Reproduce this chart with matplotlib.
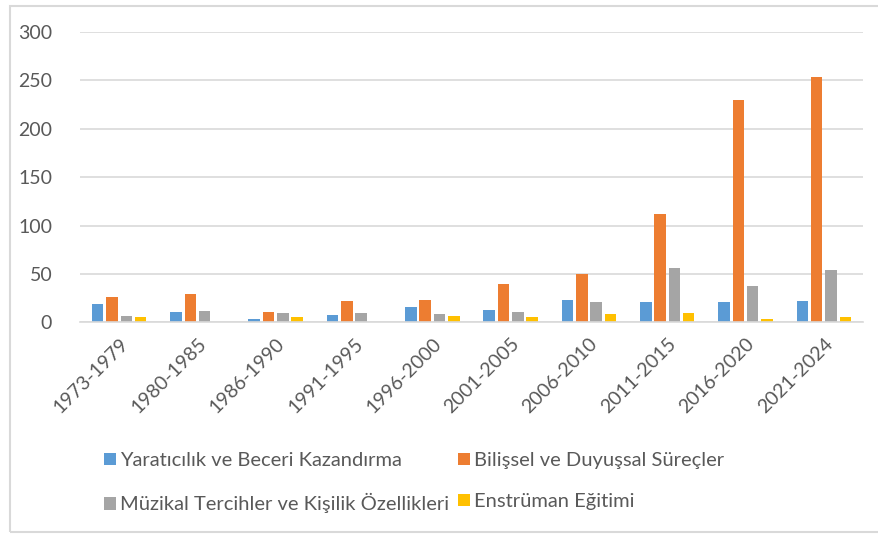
import numpy as np
import matplotlib
matplotlib.use('Agg')
import matplotlib.pyplot as plt
from matplotlib.patches import Rectangle

plt.rcParams['font.family'] = ['Lato', 'DejaVu Sans']

# periods on the x axis
periods = ['1973-1979', '1980-1985', '1986-1990', '1991-1995', '1996-2000',
           '2001-2005', '2006-2010', '2011-2015', '2016-2020', '2021-2024']

# counts
yaraticilik = [19, 11, 3, 8, 16, 13, 23, 21, 21, 22]
bilissel = [26, 29, 11, 22, 23, 40, 50, 112, 230, 253]
muzikal = [7, 12, 10, 10, 9, 11, 21, 56, 38, 54]
enstruman = [5, 0, 5, 0, 7, 6, 9, 10, 3, 5]

series_names = ['Yaratıcılık ve Beceri Kazandırma', 'Bilişsel ve Duyuşsal Süreçler',
                'Müzikal Tercihler ve Kişilik Özellikleri', 'Enstrüman Eğitimi']
colors = ['#5B9BD5', '#ED7D31', '#A5A5A5', '#FFC000']

fig = plt.figure(figsize=(8.79, 5.34), dpi=100)
ax = fig.add_axes([0.091, 0.3964, 0.8908, 0.5437])

x = np.arange(len(periods))
bar_w = 0.147
pitch = 0.183
all_series = [yaraticilik, bilissel, muzikal, enstruman]
bars = []
for i, (vals, name, c) in enumerate(zip(all_series, series_names, colors)):
    offset = (i - 1.5) * pitch
    b = ax.bar(x + offset, vals, width=bar_w, color=c, label=name, zorder=3)
    bars.append(b)

ax.set_xlim(-0.5, len(periods) - 0.5)
ax.set_ylim(0, 300)
ax.set_yticks(range(0, 301, 50))
ax.yaxis.grid(True, color='#D9D9D9', linewidth=1.2, zorder=0)
ax.set_axisbelow(True)

for s in ['top', 'right', 'left']:
    ax.spines[s].set_visible(False)
ax.spines['bottom'].set_color('#D9D9D9')
ax.spines['bottom'].set_linewidth(1.2)
ax.spines['bottom'].set_zorder(4)

ax.tick_params(axis='both', length=0, colors='#595959', labelsize=14)
ax.tick_params(axis='y', pad=20)
ax.set_xticks(x)
ax.set_xticklabels(periods, rotation=45, ha='right', rotation_mode='anchor')
ax.tick_params(axis='x', pad=9)

# legend under the chart, filled row by row like excel does it
order = [0, 2, 1, 3]
fig.legend([bars[i] for i in order], [series_names[i] for i in order],
           loc='upper left', bbox_to_anchor=(104 / 879, 1 - 452 / 534),
           ncol=2, frameon=False, fontsize=14.5, labelcolor='#595959',
           handlelength=0.6, handleheight=0.6, handletextpad=0.18,
           columnspacing=0.45, labelspacing=1.2, borderpad=0, borderaxespad=0)

# light border around the whole chart
fig.patches.append(Rectangle((10 / 879, 2 / 534), 1.0, 526 / 534, transform=fig.transFigure,
                             fill=False, edgecolor='#D9D9D9', linewidth=1.5))

fig.savefig('out.png', dpi=100)
